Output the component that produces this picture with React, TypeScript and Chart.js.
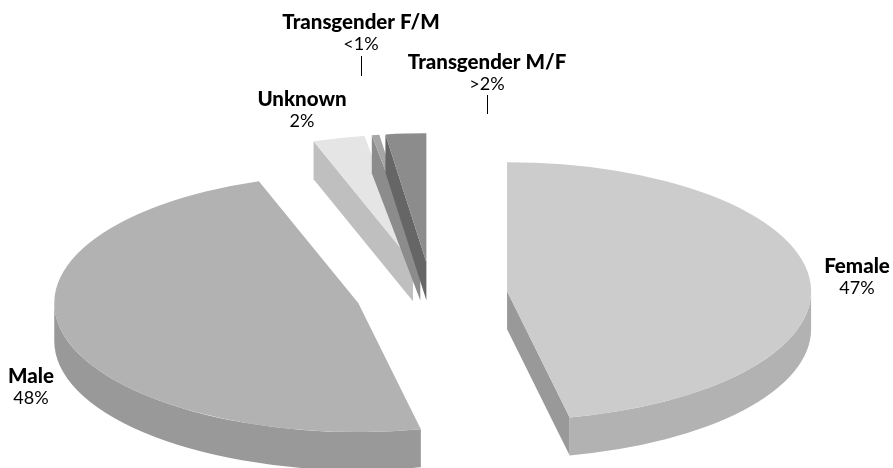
import React, { useEffect, useRef } from "react";
import { Chart, registerables } from "chart.js";

Chart.register(...registerables);

const categories = ["Female", "Male", "Unknown", "Transgender F/M", "Transgender M/F"];
const sliceValues = [46.7, 48.0, 2.75, 0.4, 2.15];
const valueLabels = ["47%", "48%", "2%", "<1%", ">2%"];

const topColors = ["#cccccc", "#b2b2b2", "#e5e5e5", "#a6a6a6", "#8c8c8c"];
const wallColors = ["#b2b2b2", "#999999", "#bfbfbf", "#8c8c8c", "#666666"];
const faceColors = ["#999999", "#999999", "#bfbfbf", "#8c8c8c", "#666666"];

// layout of the projected pie, in page pixels
const CX = 431.5;
const CY = 294.5;
const RX = 304;
const RY = 129;
const DEPTH = 38;
const EXPLODE = 76;
const PAINT_ORDER = [2, 3, 4, 1, 0];

// label anchors: centre x, baseline of name, baseline of value
const labelAnchors = [
  [857, 273, 294],
  [31, 383, 404],
  [302, 106, 127],
  [361, 29, 50],
  [487, 69, 90],
];
const leaders = [
  [361, 56, 76],
  [487, 95, 114],
];
const FONT = "Lato";

const pie3d = {
  id: "pie3d",
  beforeDatasetsDraw(chart: any) {
    const ctx = chart.ctx;
    const arcs = chart.getDatasetMeta(0).data;
    for (const i of PAINT_ORDER) {
      const arc = arcs[i];
      const { startAngle: a, endAngle: b, outerRadius: R, x, y } = arc.getProps(
        ["startAngle", "endAngle", "outerRadius", "x", "y"],
        true
      );
      const mid = (a + b) / 2;
      const ox = CX + Math.cos(mid) * EXPLODE;
      const oy = CY + Math.sin(mid) * EXPLODE * (RY / RX);

      // cut faces turned towards the viewer
      const face = (t: number) => {
        const ex = ox + RX * Math.cos(t);
        const ey = oy + RY * Math.sin(t);
        ctx.beginPath();
        ctx.moveTo(ox, oy);
        ctx.lineTo(ex, ey);
        ctx.lineTo(ex, ey + DEPTH);
        ctx.lineTo(ox, oy + DEPTH);
        ctx.closePath();
        ctx.fillStyle = faceColors[i];
        ctx.fill();
      };
      if (Math.cos(a) < -1e-6) face(a);
      if (Math.cos(b) > 1e-6) face(b);

      // outer wall, only its front half shows
      const t1 = Math.max(a, 0);
      const t2 = Math.min(b, Math.PI);
      if (t2 > t1) {
        ctx.beginPath();
        ctx.ellipse(ox, oy, RX, RY, 0, t1, t2, false);
        ctx.ellipse(ox, oy + DEPTH, RX, RY, 0, t2, t1, true);
        ctx.closePath();
        ctx.fillStyle = wallColors[i];
        ctx.fill();
      }

      // top, drawn by the library's own arc element
      ctx.save();
      ctx.translate(ox, oy);
      ctx.scale(RX / R, RY / R);
      ctx.translate(-x, -y);
      arc.draw(ctx);
      ctx.restore();
    }
    return false;
  },
  afterDraw(chart: any) {
    const ctx = chart.ctx;
    ctx.save();
    ctx.fillStyle = "#000000";
    ctx.textAlign = "center";
    ctx.textBaseline = "alphabetic";
    categories.forEach((name, i) => {
      const [x, y1, y2] = labelAnchors[i];
      ctx.font = `900 20.5px ${FONT}`;
      ctx.fillText(name, x, y1);
      ctx.font = `18px ${FONT}`;
      ctx.fillText(valueLabels[i], x, y2);
    });
    ctx.strokeStyle = "#000000";
    ctx.lineWidth = 1;
    for (const [x, y1, y2] of leaders) {
      ctx.beginPath();
      ctx.moveTo(x + 0.5, y1);
      ctx.lineTo(x + 0.5, y2);
      ctx.stroke();
    }
    ctx.restore();
  },
};

export default function App() {
  const ref = useRef<HTMLCanvasElement>(null);
  useEffect(() => {
    document.body.style.margin = "0";
    document.body.style.background = "#ffffff";
    const chart = new Chart(ref.current as HTMLCanvasElement, {
      type: "pie",
      data: {
        labels: categories,
        datasets: [
          {
            data: sliceValues,
            backgroundColor: topColors,
            borderWidth: 0,
            clip: false,
          } as any,
        ],
      },
      options: {
        animation: false,
        responsive: false,
        events: [],
        layout: { padding: 0 },
        plugins: { legend: { display: false }, tooltip: { enabled: false } },
      },
      plugins: [pie3d as any],
    });
    return () => chart.destroy();
  }, []);
  return <canvas ref={ref} width={893} height={468} style={{ display: "block" }} />;
}
